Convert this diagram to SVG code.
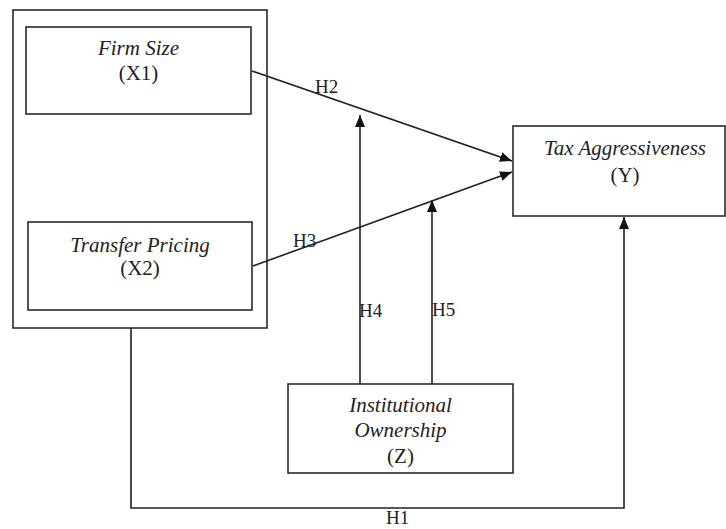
<svg xmlns="http://www.w3.org/2000/svg" width="726" height="529" viewBox="0 0 726 529">
<style>
.box{fill:#fff;stroke:#2a2a2a;stroke-width:1.6}
.t{font-family:"Liberation Serif","Times New Roman",serif;font-size:21px;fill:#222;text-anchor:middle}
.i{font-style:italic}
.lbl{font-family:"Liberation Serif","Times New Roman",serif;font-size:19px;fill:#222}
.c{fill:none;stroke:#222;stroke-width:1.6}
</style>
<defs>
<marker id="ah" markerUnits="userSpaceOnUse" markerWidth="14" markerHeight="12" refX="12" refY="5" orient="auto">
<path d="M0,0 L12,5 L0,10 Z" fill="#111"/>
</marker>
</defs>
<rect width="726" height="529" fill="#fff"/>
<g id="group-X">
<rect class="box" x="13" y="10" width="254" height="318"/>
</g>
<g id="firm-size">
<rect class="box" x="26" y="27" width="225" height="87"/>
<text class="t i" x="138.5" y="55">Firm Size</text>
<text class="t" x="138.5" y="80">(X1)</text>
</g>
<g id="transfer-pricing">
<rect class="box" x="28" y="222" width="224" height="88"/>
<text class="t i" x="140" y="252">Transfer Pricing</text>
<text class="t" x="140" y="275">(X2)</text>
</g>
<g id="tax-aggressiveness">
<rect class="box" x="513" y="126" width="212" height="90"/>
<text class="t i" x="625" y="155">Tax Aggressiveness</text>
<text class="t" x="625" y="182">(Y)</text>
</g>
<g id="institutional-ownership">
<rect class="box" x="288" y="384" width="225" height="89"/>
<text class="t i" x="400.5" y="412">Institutional</text>
<text class="t i" x="400.5" y="437">Ownership</text>
<text class="t" x="400.5" y="463">(Z)</text>
</g>
<g id="connectors">
<line class="c" x1="252" y1="71" x2="512" y2="161" marker-end="url(#ah)"/>
<line class="c" x1="253" y1="266" x2="512" y2="172" marker-end="url(#ah)"/>
<line class="c" x1="360" y1="384" x2="360" y2="115" marker-end="url(#ah)"/>
<line class="c" x1="432" y1="384" x2="432" y2="200" marker-end="url(#ah)"/>
<polyline class="c" points="131,328 131,508 624,508 624,217" marker-end="url(#ah)"/>
<text class="lbl" x="315" y="93">H2</text>
<text class="lbl" x="293" y="247">H3</text>
<text class="lbl" x="359" y="317">H4</text>
<text class="lbl" x="432" y="316">H5</text>
<text class="lbl" x="386" y="524">H1</text>
</g>
</svg>
